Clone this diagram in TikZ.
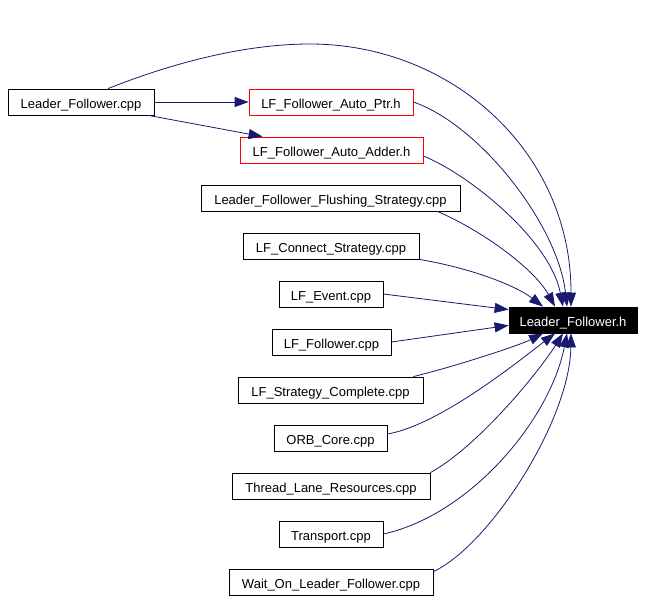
\documentclass[tikz,border=0pt]{standalone}
\usepackage{fontspec}
\setmainfont{Liberation Sans}
\usetikzlibrary{arrows.meta}
\definecolor{edgeblue}{HTML}{191970}
\begin{document}
\begin{tikzpicture}[x=1pt,y=-1pt,
  box/.style={draw=black,line width=0.8pt,rectangle,minimum height=26pt,inner sep=0pt,
    text height=12pt,text depth=0pt,
    font=\fontsize{13pt}{15pt}\selectfont,fill=white},
  redbox/.style={box,draw=red},
  mainbox/.style={box,fill=black,draw=black,text=white},
  edge/.style={draw=edgeblue,line width=0.8pt,-{Triangle[length=14pt,width=10pt]},fill=none},
]
\useasboundingbox (0,0) rectangle (645,600);
\node[box,minimum width=146pt] (lfcpp) at (81,102) {Leader\_Follower.cpp};
\node[redbox,minimum width=164pt] (ptr) at (331,102) {LF\_Follower\_Auto\_Ptr.h};
\node[redbox,minimum width=183pt] (adder) at (331.5,150) {LF\_Follower\_Auto\_Adder.h};
\node[box,minimum width=259pt] (flush) at (330.5,198) {Leader\_Follower\_Flushing\_Strategy.cpp};
\node[box,minimum width=176pt] (connect) at (331,246) {LF\_Connect\_Strategy.cpp};
\node[box,minimum width=104pt] (event) at (331,294) {LF\_Event.cpp};
\node[box,minimum width=119pt] (follower) at (331.5,342) {LF\_Follower.cpp};
\node[box,minimum width=185pt] (complete) at (330.5,390) {LF\_Strategy\_Complete.cpp};
\node[box,minimum width=113pt] (orb) at (330.5,438) {ORB\_Core.cpp};
\node[box,minimum width=198pt] (thread) at (331,486) {Thread\_Lane\_Resources.cpp};
\node[box,minimum width=104pt] (transport) at (331,534) {Transport.cpp};
\node[box,minimum width=204pt] (wait) at (331,582) {Wait\_On\_Leader\_Follower.cpp};
\node[mainbox,minimum width=128pt] (lfh) at (573,320) {Leader\_Follower.h};

% from Leader_Follower.cpp
\draw[edge] ([xshift=27pt]lfcpp.north) .. controls (180,60) and (250,44) .. (310,44)
  .. controls (450,44) and (571,150) .. ([xshift=-2pt]lfh.north);
\draw[edge] (lfcpp.east) -- (ptr.west);
\draw[edge] ([xshift=-6pt]lfcpp.south east) -- ([xshift=23pt]adder.north west);

% top group
\draw[edge] (ptr.east) .. controls (480,125) and (558,225) .. ([xshift=-6pt]lfh.north);
\draw[edge] ([yshift=-6pt]adder.east) .. controls (470,175) and (550,240) .. ([xshift=-10pt]lfh.north);
\draw[edge] ([xshift=-23pt]flush.south east) .. controls (485,232) and (535,270) .. ([xshift=-18pt]lfh.north);
\draw[edge] (connect.south east) .. controls (470,268) and (515,285) .. ([xshift=-30pt]lfh.north);
\draw[edge] (event.east) -- ([yshift=-3pt]lfh.north west);
\draw[edge] (follower.east) -- ([yshift=8pt]lfh.south west);

% bottom group
\draw[edge] ([xshift=-10pt]complete.north east) .. controls (460,365) and (520,345) .. ([xshift=-30pt]lfh.south);
\draw[edge] ([yshift=4pt]orb.east) .. controls (440,425) and (520,360) .. ([xshift=-18pt]lfh.south);
\draw[edge] (thread.north east) .. controls (480,445) and (540,370) .. ([xshift=-10pt]lfh.south);
\draw[edge] (transport.east) .. controls (470,515) and (550,420) .. ([xshift=-6pt]lfh.south);
\draw[edge] ([yshift=-3pt]wait.north east) .. controls (490,545) and (570,420) .. ([xshift=-2pt]lfh.south);
\end{tikzpicture}
\end{document}
